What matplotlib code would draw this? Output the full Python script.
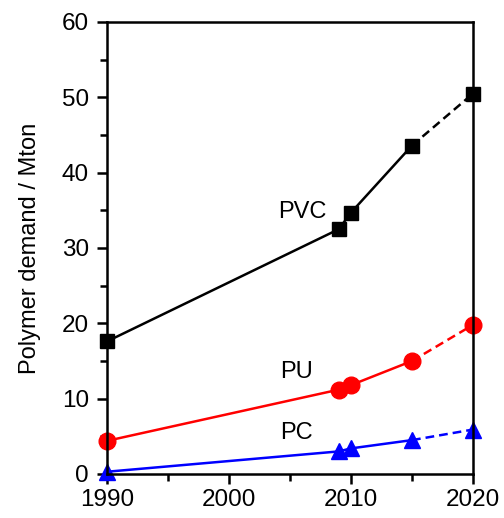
import matplotlib
matplotlib.use("Agg")
from matplotlib import pyplot as plt
from matplotlib.ticker import MultipleLocator

plt.rcParams['font.family'] = ['Liberation Sans', 'DejaVu Sans']

# data
years = [1990, 2009, 2010, 2015, 2020]
pvc = [17.6, 32.5, 34.7, 43.6, 50.5]
pu = [4.4, 11.2, 11.8, 15.0, 19.8]
pc = [0.3, 3.0, 3.4, 4.5, 5.9]

series = [
    ("PVC", pvc, "black", "s", 10.5, (2006.0, 34.8)),
    ("PU", pu, "red", "o", 12, (2005.5, 13.5)),
    ("PC", pc, "blue", "^", 12, (2005.5, 5.4)),
]

fig = plt.figure(figsize=(5.04, 5.18), dpi=100)
ax = fig.add_axes([107 / 504, 44 / 518, 366 / 504, 452 / 518])

for name, vals, col, mk, ms, pos in series:
    # measured part solid, projection dashed
    ax.plot(years[:4], vals[:4], color=col, lw=1.8)
    ax.plot(years[3:], vals[3:], color=col, lw=1.8, ls=(0, (3.5, 2)))
    ax.plot(years, vals, color=col, marker=mk, ms=ms, ls='none', clip_on=False)
    ax.text(pos[0], pos[1], name, fontsize=17, ha='center', va='center')

ax.set_xlim(1990, 2020)
ax.set_ylim(0, 60)
ax.xaxis.set_major_locator(MultipleLocator(10))
ax.xaxis.set_minor_locator(MultipleLocator(5))
ax.yaxis.set_major_locator(MultipleLocator(10))
ax.yaxis.set_minor_locator(MultipleLocator(5))
ax.tick_params(which='major', direction='out', length=7, width=1.8, labelsize=17.5, pad=4)
ax.tick_params(axis='y', which='major', pad=6)
ax.tick_params(which='minor', direction='out', length=5, width=1.8)
for s in ax.spines.values():
    s.set_linewidth(1.8)
ax.set_ylabel("Polymer demand / Mton", fontsize=17, labelpad=15)

fig.savefig("out.png", dpi=100)
